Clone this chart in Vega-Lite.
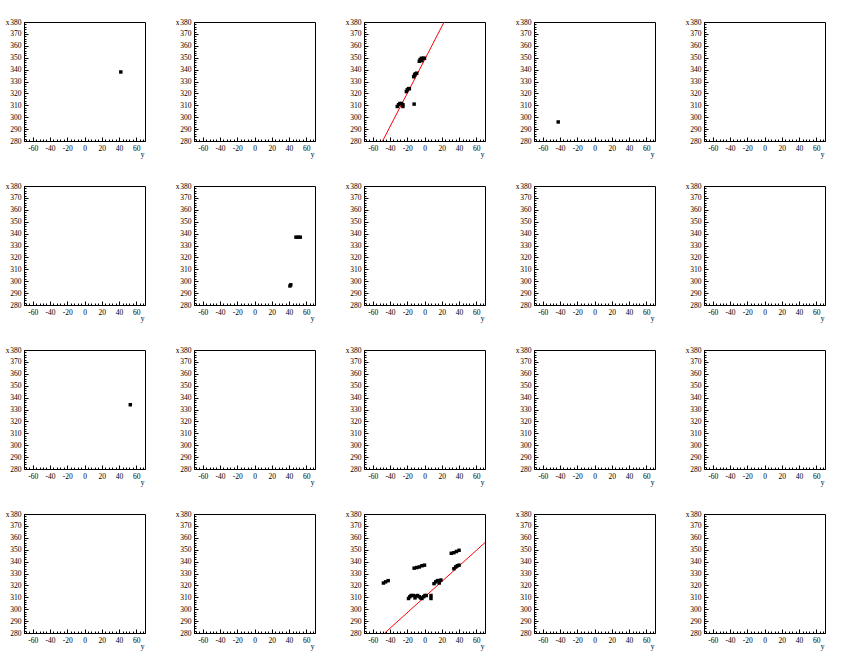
{
  "$schema": "https://vega.github.io/schema/vega-lite/v6.json",
  "background": "white",
  "padding": {"left": 4, "top": 17, "right": 5, "bottom": 5},
  "bounds": "flush",
  "data": {
    "values": [
      {"panel": 1, "kind": "hit", "y": 42, "x": 338},
      {"panel": 2, "kind": "none"},
      {"panel": 3, "kind": "hit", "y": -31.5, "x": 309},
      {"panel": 3, "kind": "hit", "y": -30, "x": 310.5},
      {"panel": 3, "kind": "hit", "y": -28.5, "x": 311.5},
      {"panel": 3, "kind": "hit", "y": -26.5, "x": 311.5},
      {"panel": 3, "kind": "hit", "y": -25, "x": 310.5},
      {"panel": 3, "kind": "hit", "y": -25, "x": 309},
      {"panel": 3, "kind": "hit", "y": -12, "x": 311},
      {"panel": 3, "kind": "hit", "y": -21, "x": 321.5},
      {"panel": 3, "kind": "hit", "y": -20, "x": 323},
      {"panel": 3, "kind": "hit", "y": -18.5, "x": 324},
      {"panel": 3, "kind": "hit", "y": -17.5, "x": 324},
      {"panel": 3, "kind": "hit", "y": -12.5, "x": 334},
      {"panel": 3, "kind": "hit", "y": -11.5, "x": 335.5},
      {"panel": 3, "kind": "hit", "y": -10.5, "x": 336.5},
      {"panel": 3, "kind": "hit", "y": -9, "x": 337},
      {"panel": 3, "kind": "hit", "y": -6, "x": 347},
      {"panel": 3, "kind": "hit", "y": -5, "x": 348.5},
      {"panel": 3, "kind": "hit", "y": -3.5, "x": 349.5},
      {"panel": 3, "kind": "hit", "y": -1.5, "x": 349.5},
      {"panel": 3, "kind": "hit", "y": 0, "x": 349.5},
      {"panel": 3, "kind": "hit", "y": -3, "x": 347.5},
      {"panel": 3, "kind": "fit", "y": -48.5, "x": 280},
      {"panel": 3, "kind": "fit", "y": 22.7, "x": 380},
      {"panel": 4, "kind": "hit", "y": -42, "x": 296},
      {"panel": 5, "kind": "none"},
      {"panel": 6, "kind": "none"},
      {"panel": 7, "kind": "hit", "y": 48, "x": 337},
      {"panel": 7, "kind": "hit", "y": 50.5, "x": 337},
      {"panel": 7, "kind": "hit", "y": 53, "x": 337},
      {"panel": 7, "kind": "hit", "y": 41, "x": 296},
      {"panel": 7, "kind": "hit", "y": 42, "x": 297},
      {"panel": 8, "kind": "none"},
      {"panel": 9, "kind": "none"},
      {"panel": 10, "kind": "none"},
      {"panel": 11, "kind": "hit", "y": 53, "x": 334},
      {"panel": 12, "kind": "none"},
      {"panel": 13, "kind": "none"},
      {"panel": 14, "kind": "none"},
      {"panel": 15, "kind": "none"},
      {"panel": 16, "kind": "none"},
      {"panel": 17, "kind": "none"},
      {"panel": 18, "kind": "hit", "y": -47.5, "x": 322},
      {"panel": 18, "kind": "hit", "y": -45, "x": 323},
      {"panel": 18, "kind": "hit", "y": -42, "x": 324},
      {"panel": 18, "kind": "hit", "y": -12, "x": 334.5},
      {"panel": 18, "kind": "hit", "y": -9, "x": 335},
      {"panel": 18, "kind": "hit", "y": -6, "x": 335.5},
      {"panel": 18, "kind": "hit", "y": -3, "x": 336.5},
      {"panel": 18, "kind": "hit", "y": 0, "x": 337},
      {"panel": 18, "kind": "hit", "y": 31, "x": 347},
      {"panel": 18, "kind": "hit", "y": 34, "x": 347.5},
      {"panel": 18, "kind": "hit", "y": 37, "x": 348.5},
      {"panel": 18, "kind": "hit", "y": 40, "x": 349.5},
      {"panel": 18, "kind": "hit", "y": 34, "x": 334},
      {"panel": 18, "kind": "hit", "y": 36, "x": 335.5},
      {"panel": 18, "kind": "hit", "y": 38, "x": 336.5},
      {"panel": 18, "kind": "hit", "y": 40, "x": 337},
      {"panel": 18, "kind": "hit", "y": 11, "x": 321.5},
      {"panel": 18, "kind": "hit", "y": 13, "x": 323},
      {"panel": 18, "kind": "hit", "y": 15, "x": 324},
      {"panel": 18, "kind": "hit", "y": 17, "x": 324},
      {"panel": 18, "kind": "hit", "y": 19, "x": 324.5},
      {"panel": 18, "kind": "hit", "y": 17, "x": 322},
      {"panel": 18, "kind": "hit", "y": -18.5, "x": 309},
      {"panel": 18, "kind": "hit", "y": -17, "x": 310.5},
      {"panel": 18, "kind": "hit", "y": -15.5, "x": 311.5},
      {"panel": 18, "kind": "hit", "y": -13, "x": 311.5},
      {"panel": 18, "kind": "hit", "y": -11, "x": 309.5},
      {"panel": 18, "kind": "hit", "y": -10, "x": 311},
      {"panel": 18, "kind": "hit", "y": -8, "x": 311.5},
      {"panel": 18, "kind": "hit", "y": -6, "x": 310.5},
      {"panel": 18, "kind": "hit", "y": -4.5, "x": 309.5},
      {"panel": 18, "kind": "hit", "y": -3, "x": 309},
      {"panel": 18, "kind": "hit", "y": -1, "x": 310.5},
      {"panel": 18, "kind": "hit", "y": 0.5, "x": 311.5},
      {"panel": 18, "kind": "hit", "y": 2, "x": 311.5},
      {"panel": 18, "kind": "hit", "y": 7.5, "x": 309},
      {"panel": 18, "kind": "hit", "y": 7.5, "x": 311.5},
      {"panel": 18, "kind": "fit", "y": -46, "x": 280},
      {"panel": 18, "kind": "fit", "y": 70, "x": 356},
      {"panel": 19, "kind": "none"},
      {"panel": 20, "kind": "none"}
    ]
  },
  "facet": {
    "field": "panel",
    "type": "ordinal",
    "sort": "ascending",
    "title": null,
    "header": {"title": null, "labelExpr": "''", "labelFontSize": 0.01, "labelPadding": 0, "labelLimit": 1}
  },
  "columns": 5,
  "spacing": {"column": 49, "row": 45},
  "resolve": {"axis": {"x": "independent", "y": "independent"}},
  "spec": {
    "width": 121,
    "height": 119,
    "encoding": {
      "x": {
        "field": "y",
        "type": "quantitative",
        "scale": {"domain": [-70, 70], "nice": false, "zero": false},
        "axis": {
          "title": "y",
          "titleX": 118,
          "titleY": 13,
          "titleAnchor": null,
          "titleAlign": "center",
          "titleBaseline": "middle",
          "values": [-68, -64, -60, -56, -52, -48, -44, -40, -36, -32, -28, -24, -20, -16, -12, -8, -4, 0, 4, 8, 12, 16, 20, 24, 28, 32, 36, 40, 44, 48, 52, 56, 60, 64, 68],
          "labelExpr": "datum.value % 20 === 0 ? '' + datum.value : ''",
          "tickSize": {"condition": {"test": "datum.value % 20 === 0", "value": -4}, "value": -2},
          "labelPadding": 7,
          "labelBaseline": "top",
          "labelFlush": false,
          "labelOverlap": false
        }
      },
      "y": {
        "field": "x",
        "type": "quantitative",
        "scale": {"domain": [280, 380], "nice": false, "zero": false},
        "axis": {
          "title": "x",
          "titleX": -17,
          "titleY": 0,
          "titleAngle": 0,
          "titleAnchor": null,
          "titleAlign": "center",
          "titleBaseline": "middle",
          "values": [280, 282, 284, 286, 288, 290, 292, 294, 296, 298, 300, 302, 304, 306, 308, 310, 312, 314, 316, 318, 320, 322, 324, 326, 328, 330, 332, 334, 336, 338, 340, 342, 344, 346, 348, 350, 352, 354, 356, 358, 360, 362, 364, 366, 368, 370, 372, 374, 376, 378, 380],
          "labelExpr": "datum.value % 10 === 0 ? '' + datum.value : ''",
          "tickSize": {"condition": {"test": "datum.value % 10 === 0", "value": -4}, "value": -2},
          "labelPadding": 7,
          "labelFlush": false,
          "labelOverlap": false
        }
      }
    },
    "layer": [
      {
        "transform": [{"filter": "datum.kind === 'fit'"}],
        "mark": {"type": "line", "color": "#ff0000", "strokeWidth": 1, "clip": true}
      },
      {
        "transform": [{"filter": "datum.kind === 'hit'"}],
        "mark": {"type": "square", "filled": true, "color": "black", "size": 12, "opacity": 1}
      }
    ]
  },
  "config": {
    "view": {"stroke": "black", "strokeWidth": 1},
    "axis": {
      "grid": false,
      "domainColor": "black",
      "domainWidth": 1,
      "tickColor": "black",
      "tickWidth": 1,
      "labelFont": "Liberation Serif",
      "labelFontSize": 7.5,
      "labelColor": "black",
      "titleFont": "Liberation Serif",
      "titleFontSize": 7.5,
      "titleFontWeight": "normal",
      "titleColor": "black"
    }
  }
}
